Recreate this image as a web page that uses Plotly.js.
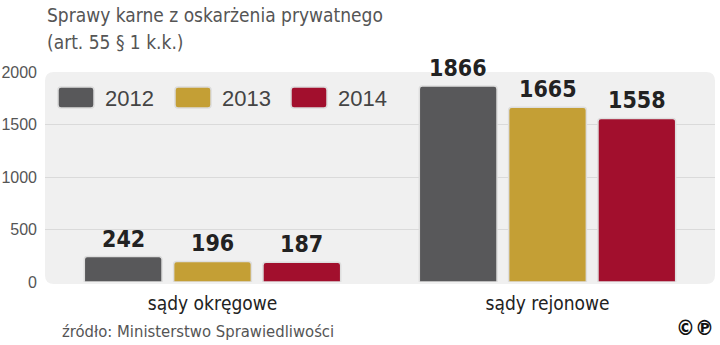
<!DOCTYPE html>
<html>
<head>
<meta charset="utf-8">
<script src="https://cdn.plot.ly/plotly-3.0.1.min.js"></script>
<style>html,body{margin:0;padding:0;background:#fff;}#chart{width:720px;height:345px;}</style>
</head>
<body>
<div id="chart"></div>
<script>
const categories = ['sądy okręgowe', 'sądy rejonowe'];
const seriesNames = ['2012', '2013', '2014'];
const values2012 = [242, 1866];
const values2013 = [196, 1665];
const values2014 = [187, 1558];
const seriesColors = ['#58585a', '#c49f35', '#a20f2d'];
const yTicks = [0, 500, 1000, 1500, 2000];
const titleLines = ['Sprawy karne z oskarżenia prywatnego', '(art. 55 § 1 k.k.)'];

const W = 720, H = 345;
const M = {l: 45, r: 5, t: 72, b: 63};
const PW = W - M.l - M.r, PH = H - M.t - M.b;
const bargap = 0.2, bargroupgap = 0.13;

const FONT = '"Liberation Sans Narrow", "DejaVu Sans Condensed", Roboto, sans-serif';
const FONT_REG = '"Liberation Sans", Roboto, sans-serif';

const seriesValues = [values2012, values2013, values2014];

const traces = seriesValues.map((vals, i) => ({
  type: 'bar',
  name: seriesNames[i],
  x: categories,
  y: vals,
  marker: {color: seriesColors[i], cornerradius: 3, line: {color: '#dedede', width: 1.5}},
  hoverinfo: 'x+y+name',
  showlegend: false
}));

// pixel -> paper helpers (for layout decorations only)
const px = x => (x - M.l) / PW;
const py = y => (M.t + PH - y) / PH;
function roundRect(x0, y0, x1, y1, r) {
  const X = v => px(v).toFixed(5), Y = v => py(v).toFixed(5);
  return `M${X(x0 + r)},${Y(y0)} L${X(x1 - r)},${Y(y0)} Q${X(x1)},${Y(y0)} ${X(x1)},${Y(y0 + r)} ` +
    `L${X(x1)},${Y(y1 - r)} Q${X(x1)},${Y(y1)} ${X(x1 - r)},${Y(y1)} L${X(x0 + r)},${Y(y1)} ` +
    `Q${X(x0)},${Y(y1)} ${X(x0)},${Y(y1 - r)} L${X(x0)},${Y(y0 + r)} Q${X(x0)},${Y(y0)} ${X(x0 + r)},${Y(y0)} Z`;
}

const shapes = [
  {type: 'path', xref: 'paper', yref: 'paper', path: roundRect(45, 72, 715, 284, 9),
   fillcolor: '#f0f0f0', line: {width: 0}, layer: 'below'}
];

const annotations = [];
// title lines
const titleY = [15, 42];
titleLines.forEach((t, i) => {
  annotations.push({xref: 'paper', yref: 'paper', x: px(45), y: py(titleY[i]), xanchor: 'left', yanchor: 'middle',
    text: t, showarrow: false, font: {family: FONT, size: 19, color: '#555'}});
});

// legend (custom swatches)
const legendX = [58, 175, 291];
seriesNames.forEach((n, i) => {
  shapes.push({type: 'path', xref: 'paper', yref: 'paper', path: roundRect(legendX[i], 87, legendX[i] + 36, 108, 3),
    fillcolor: seriesColors[i], line: {color: '#dcdcdc', width: 1.5}, layer: 'above'});
  annotations.push({xref: 'paper', yref: 'paper', x: px(legendX[i] + 45), y: py(98), xanchor: 'left', yanchor: 'middle',
    text: n, showarrow: false, font: {family: FONT_REG, size: 22, color: '#444'}});
});

// value labels over bars
const slotPx = PW / categories.length * (1 - bargap) / seriesNames.length;
seriesValues.forEach((vals, i) => {
  vals.forEach((v, k) => {
    annotations.push({x: categories[k], y: v, xref: 'x', yref: 'y', yanchor: 'bottom',
      xshift: (i - (seriesNames.length - 1) / 2) * slotPx, yshift: 3,
      text: String(v), showarrow: false,
      font: {family: FONT, size: 23, color: '#222', weight: 'bold'}});
  });
});

annotations.push({xref: 'paper', yref: 'paper', x: px(60), y: py(331), xanchor: 'left', yanchor: 'middle',
  text: 'źródło: Ministerstwo Sprawiedliwości', showarrow: false, font: {family: FONT, size: 16.5, color: '#555'}});
annotations.push({xref: 'paper', yref: 'paper', x: px(716), y: py(328), xanchor: 'right', yanchor: 'middle',
  text: '©℗', showarrow: false, font: {family: '"DejaVu Sans Condensed", "DejaVu Sans", sans-serif', size: 21, color: '#111', weight: 'bold'}});

const layout = {
  width: W, height: H,
  margin: M,
  paper_bgcolor: '#ffffff',
  plot_bgcolor: 'rgba(0,0,0,0)',
  barmode: 'group',
  bargap: bargap,
  bargroupgap: bargroupgap,
  xaxis: {type: 'category', showgrid: false, zeroline: false, showline: false, ticks: '',
    tickfont: {family: FONT, size: 19, color: '#222'}, ticklabelstandoff: 8, fixedrange: true},
  yaxis: {range: [0, 2000], tickvals: yTicks, ticktext: yTicks.map(String), showgrid: true, gridcolor: '#dadada', gridwidth: 1,
    zeroline: false, showline: false, ticks: '', tickfont: {family: FONT_REG, size: 16, color: '#555'}, ticklabelstandoff: 7, fixedrange: true},
  shapes: shapes,
  annotations: annotations,
  showlegend: false
};

Plotly.newPlot('chart', traces, layout, {displayModeBar: false, staticPlot: true});
</script>
</body>
</html>
